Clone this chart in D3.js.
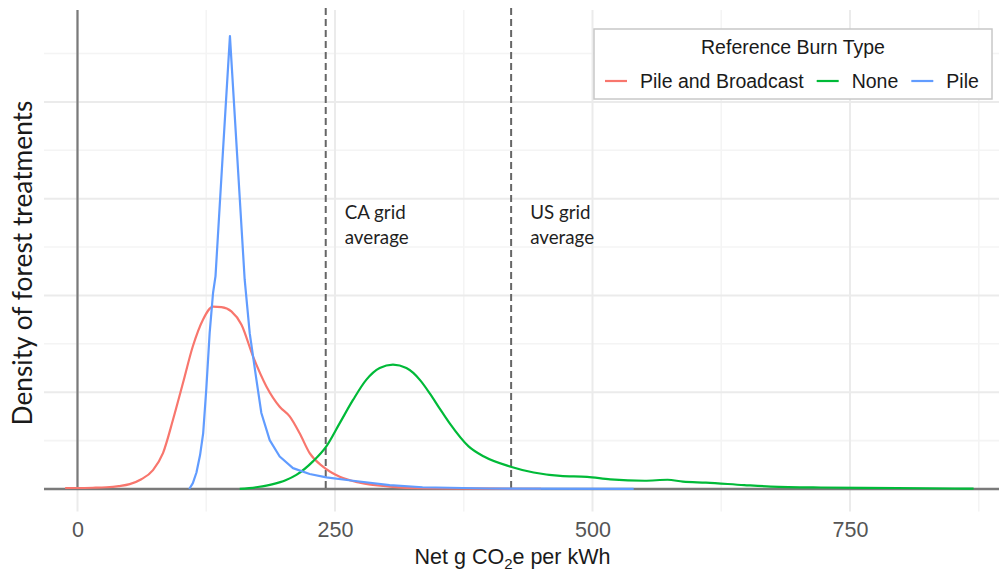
<!DOCTYPE html>
<html>
<head>
<meta charset="utf-8">
<script src="https://cdn.jsdelivr.net/npm/d3@7"></script>
<style>
  body { margin: 0; background: #fff; }
  svg { display: block; }
</style>
</head>
<body>
<div id="chart"></div>
<script>
// ---- data (density values are x 1000) ----
const xTicks = [0, 250, 500, 750];
const xMinorTicks = [125, 375, 625, 875];
const yMajorTicks = [2, 4, 6, 8];
const yMinorTicks = [1, 3, 5, 7, 9];

const burnTypes = ["Pile and Broadcast", "None", "Pile"];
const burnColors = ["#F8766D", "#00BA38", "#619CFF"];

const gridRefValues = [241, 421];
const gridRefLabels = [["CA grid", "average"], ["US grid", "average"]];

const pileBroadcastX = [-12, 0, 15, 28, 40, 50.7, 62, 73.3, 83, 92.7, 102.4, 112, 121.8, 131.6, 139.7, 149.4,
  159.1, 170.4, 183.4, 196.3, 206, 215.7, 225.4, 238.3, 254.6, 274, 303, 335, 400, 450];
const pileBroadcastY = [0.02, 0.02, 0.025, 0.035, 0.06, 0.1, 0.2, 0.39, 0.74, 1.43, 2.19, 2.95, 3.5, 3.77, 3.76, 3.67,
  3.4, 2.74, 2.12, 1.7, 1.5, 1.15, 0.74, 0.46, 0.25, 0.13, 0.05, 0.015, 0.005, 0];

const noneX = [157.5, 175, 189.8, 202, 212.5, 228.6, 241.6, 254.6, 267.5, 280.5, 293.4, 306.3, 319.3, 326, 333,
  342.5, 351.7, 361.2, 379.7, 394.6, 420.6, 442.9, 468.8, 494.8, 517.2, 550.6, 572.9, 587.8, 610.1, 647.2,
  673.2, 721.6, 795.8, 851.5, 870];
const noneY = [0, 0.04, 0.1, 0.18, 0.29, 0.57, 0.88, 1.36, 1.84, 2.26, 2.5, 2.57, 2.5, 2.4, 2.24,
  1.96, 1.66, 1.36, 0.88, 0.67, 0.46, 0.34, 0.27, 0.25, 0.2, 0.17, 0.19, 0.15, 0.13, 0.08,
  0.05, 0.03, 0.02, 0.01, 0.005];

const pileX = [108.5, 112, 115.5, 119, 122, 125, 128.3, 131.6, 134, 141, 148, 155, 162.3, 167.2, 173.7, 178.5,
  186.6, 196.3, 209.2, 225.4, 241.6, 267.5, 303, 335, 400, 540];
const pileY = [0, 0.12, 0.34, 0.7, 1.15, 2.05, 3.22, 4.05, 4.4, 6.9, 9.36, 6.9, 4.33, 3.22, 2.26, 1.57,
  1.01, 0.67, 0.43, 0.31, 0.24, 0.17, 0.08, 0.035, 0.01, 0];

// ---- layout ----
const width = 999, height = 571;
const panel = {left: 44, right: 999, top: 10, bottom: 511.6};
const sansFont = "'Liberation Sans', Arial, sans-serif";
const noteFont = "Lato, 'Open Sans', sans-serif";

const svg = d3.select("#chart").append("svg")
    .attr("width", width)
    .attr("height", height);

const x = d3.scaleLinear().domain([-32.52, 894.66]).range([panel.left, panel.right]);
const y = d3.scaleLinear().domain([-0.468, 9.9]).range([panel.bottom, panel.top]);

// grid lines
const grid = svg.append("g");
grid.selectAll(".xminor").data(xMinorTicks).join("line")
    .attr("x1", d => x(d)).attr("x2", d => x(d))
    .attr("y1", panel.top).attr("y2", panel.bottom)
    .attr("stroke", "#f4f4f4").attr("stroke-width", 1.6);
grid.selectAll(".yminor").data(yMinorTicks).join("line")
    .attr("x1", panel.left).attr("x2", panel.right)
    .attr("y1", d => y(d)).attr("y2", d => y(d))
    .attr("stroke", "#f4f4f4").attr("stroke-width", 1.6);
grid.selectAll(".xmajor").data(xTicks).join("line")
    .attr("x1", d => x(d)).attr("x2", d => x(d))
    .attr("y1", panel.top).attr("y2", panel.bottom)
    .attr("stroke", "#ebebeb").attr("stroke-width", 2);
grid.selectAll(".ymajor").data(yMajorTicks).join("line")
    .attr("x1", panel.left).attr("x2", panel.right)
    .attr("y1", d => y(d)).attr("y2", d => y(d))
    .attr("stroke", "#ebebeb").attr("stroke-width", 2);

// x axis tick labels
const xAxis = svg.append("g")
    .attr("transform", `translate(0, ${panel.bottom})`)
    .call(d3.axisBottom(x).tickValues(xTicks).tickSize(0).tickPadding(10).tickFormat(d3.format("d")));
xAxis.select(".domain").remove();
xAxis.selectAll("text")
    .attr("font-family", sansFont)
    .attr("font-size", 21.5)
    .attr("fill", "#555");

// y = 0 line and x = 0 line
svg.append("line")
    .attr("x1", panel.left).attr("x2", panel.right)
    .attr("y1", y(0)).attr("y2", y(0))
    .attr("stroke", "#7a7a7a").attr("stroke-width", 2.4);
svg.append("line")
    .attr("x1", x(0)).attr("x2", x(0))
    .attr("y1", panel.top).attr("y2", y(0))
    .attr("stroke", "#7a7a7a").attr("stroke-width", 2.2);

// reference grid averages
svg.selectAll(".ref").data(gridRefValues).join("line")
    .attr("x1", d => x(d)).attr("x2", d => x(d))
    .attr("y1", panel.top - 2).attr("y2", y(0))
    .attr("stroke", "#666").attr("stroke-width", 2)
    .attr("stroke-dasharray", "7,4");

// density curves
const series = [
  {xs: pileBroadcastX, ys: pileBroadcastY, curve: d3.curveMonotoneX},
  {xs: noneX, ys: noneY, curve: d3.curveMonotoneX},
  {xs: pileX, ys: pileY, curve: d3.curveLinear}
];
series.forEach((s, i) => {
  const pts = s.xs.map((v, j) => [v, s.ys[j]]);
  svg.append("path")
      .datum(pts)
      .attr("fill", "none")
      .attr("stroke", burnColors[i])
      .attr("stroke-width", 2.2)
      .attr("stroke-linejoin", "round")
      .attr("d", d3.line().x(d => x(d[0])).y(d => y(d[1])).curve(s.curve));
});

// annotations
const notes = svg.append("g").attr("font-family", noteFont).attr("fill", "#1f1f1f");
gridRefValues.forEach((v, i) => {
  gridRefLabels[i].forEach((line, k) => {
    notes.append("text")
        .attr("x", x(v) + 19)
        .attr("y", 219 + k * 24.5)
        .text(line);
  });
});
// size annotation font so that "average" is about 64px wide
notes.selectAll("text").attr("font-size", 20);
const avgWidth = notes.select("text:nth-child(2)").node().getComputedTextLength();
notes.selectAll("text").attr("font-size", 20 * 64 / avgWidth);

// axis titles
const xTitle = svg.append("text")
    .attr("x", 512.5).attr("y", 564)
    .attr("text-anchor", "middle")
    .attr("font-family", sansFont)
    .attr("font-size", 21.5)
    .attr("fill", "#1a1a1a");
xTitle.append("tspan").text("Net g CO");
xTitle.append("tspan").attr("font-size", 15).attr("dy", 5).text("2");
xTitle.append("tspan").attr("dy", -5).text("e per kWh");

const yTitle = svg.append("text")
    .attr("transform", "translate(32, 263) rotate(-90)")
    .attr("text-anchor", "middle")
    .attr("font-family", noteFont)
    .attr("font-size", 24)
    .attr("fill", "#1a1a1a")
    .text("Density of forest treatments");
const yLen = yTitle.node().getComputedTextLength();
yTitle.attr("font-size", 24 * 325 / yLen);

// legend
const legend = svg.append("g").attr("font-family", sansFont).attr("fill", "#1a1a1a");
legend.append("rect")
    .attr("x", 594).attr("y", 29)
    .attr("width", 398).attr("height", 70)
    .attr("fill", "#fff")
    .attr("stroke", "#c8c8c8").attr("stroke-width", 1.5);
legend.append("text")
    .attr("x", 793).attr("y", 54)
    .attr("text-anchor", "middle")
    .attr("font-size", 19.5)
    .text("Reference Burn Type");
let cursor = 605;
burnTypes.forEach((name, i) => {
  legend.append("line")
      .attr("x1", cursor).attr("x2", cursor + 22)
      .attr("y1", 81).attr("y2", 81)
      .attr("stroke", burnColors[i]).attr("stroke-width", 2.2);
  const t = legend.append("text")
      .attr("x", cursor + 35).attr("y", 88)
      .attr("font-size", 19.5)
      .text(name);
  cursor += 35 + t.node().getComputedTextLength() + 13;
});
</script>
</body>
</html>
